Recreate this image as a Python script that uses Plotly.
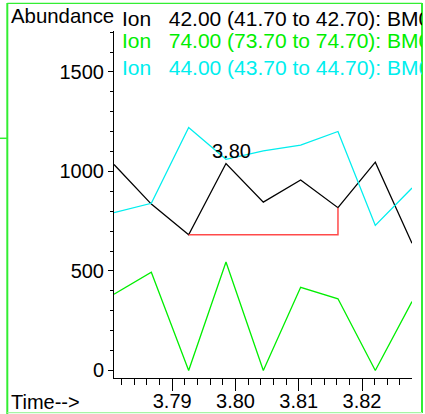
import plotly.graph_objects as go

# ---- data ----
times = [3.7808, 3.7867, 3.7926, 3.7985, 3.8044, 3.8103, 3.8162, 3.8221, 3.8279]
ion42 = [1035, 836, 682, 1040, 846, 957, 818, 1047, 639]
ion74 = [383, 494, 0, 545, 0, 418, 360, 0, 346]
ion44 = [793, 840, 1221, 1061, 1104, 1132, 1201, 729, 917]

baseline_t = [3.7926, 3.8162, 3.8162]
baseline_v = [682, 682, 818]

peak_time = 3.7985
peak_label = "3.80"

x_ticks = [3.79, 3.80, 3.81, 3.82]
y_ticks = [0, 500, 1000, 1500]

legend_lines = [
    ("Ion\u00a0\u00a0\u00a042.00 (41.70 to 42.70): BM01.D\\data.ms", "#000000"),
    ("Ion\u00a0\u00a0\u00a074.00 (73.70 to 74.70): BM01.D\\data.ms", "#00ee00"),
    ("Ion\u00a0\u00a0\u00a044.00 (43.70 to 44.70): BM01.D\\data.ms", "#00eeee"),
]

# ---- layout geometry ----
W, H = 425, 414
L, R, T, B = 114, 412, 31, 378
FONT = "Liberation Sans, Arial, Helvetica, sans-serif"


def px(x):
    return (x - L) / (R - L)


def py(y):
    return (B - y) / (B - T)


fig = go.Figure()
fig.add_trace(go.Scatter(x=times, y=ion42, mode="lines",
                         line=dict(color="#000000", width=1.3)))
fig.add_trace(go.Scatter(x=times, y=ion74, mode="lines",
                         line=dict(color="#00ee00", width=1.3)))
fig.add_trace(go.Scatter(x=times, y=ion44, mode="lines",
                         line=dict(color="#00eeee", width=1.3)))
fig.add_trace(go.Scatter(x=baseline_t, y=baseline_v, mode="lines",
                         line=dict(color="#ff4a4a", width=1.5)))

annotations = [
    dict(text="Abundance", x=px(9), y=py(16), xref="paper", yref="paper",
         xanchor="left", yanchor="middle", showarrow=False,
         font=dict(size=20.4, color="#000000", family=FONT)),
    dict(text="Time-->", x=px(9), y=py(401.5), xref="paper", yref="paper",
         xanchor="left", yanchor="middle", showarrow=False,
         font=dict(size=20, color="#000000", family=FONT)),
    dict(text=peak_label, x=peak_time, y=1102, xref="x", yref="y",
         xshift=6, xanchor="center", yanchor="middle", showarrow=False,
         font=dict(size=20, color="#000000", family=FONT)),
]
for (txt, col), yc in zip(legend_lines, [18.5, 40.8, 67.0]):
    annotations.append(dict(
        text=txt, x=px(120.7), y=py(yc), xref="paper", yref="paper",
        xanchor="left", yanchor="middle", showarrow=False, align="left",
        width=300, borderpad=0,
        font=dict(size=21, color=col, family=FONT)))

shapes = [
    # green frame
    dict(type="line", xref="paper", yref="paper", x0=px(7.3), x1=px(7.3),
         y0=py(3), y1=py(414), line=dict(color="#33ee33", width=2)),
    dict(type="line", xref="paper", yref="paper", x0=px(7.3), x1=px(422),
         y0=py(3.3), y1=py(3.3), line=dict(color="#33ee33", width=1.2)),
    dict(type="line", xref="paper", yref="paper", x0=px(422), x1=px(422),
         y0=py(3), y1=py(413), line=dict(color="#33ee33", width=2)),
    dict(type="line", xref="paper", yref="paper", x0=px(7.3), x1=px(422),
         y0=py(412.7), y1=py(412.7), line=dict(color="#a6f5a6", width=1.2)),
    dict(type="line", xref="paper", yref="paper", x0=px(0), x1=px(7.3),
         y0=py(138.3), y1=py(138.3), line=dict(color="#33ee33", width=1.5)),
]

fig.update_layout(
    width=W, height=H,
    margin=dict(l=L, r=W - R, t=T, b=H - B, pad=0, autoexpand=False),
    paper_bgcolor="white", plot_bgcolor="white",
    showlegend=False,
    annotations=annotations,
    shapes=shapes,
    font=dict(family=FONT, size=20, color="#000000"),
    xaxis=dict(
        range=[3.7808, 3.8279], tickvals=x_ticks, tickformat=".2f",
        automargin=False, ticklabelstandoff=-7,
        showline=True, linecolor="#000000", linewidth=1,
        ticks="outside", ticklen=12, tickcolor="#000000", tickwidth=1,
        showgrid=False, zeroline=False,
        tickfont=dict(size=20, family=FONT, color="#000000"),
        minor=dict(dtick=0.002, tick0=3.79, ticks="outside", ticklen=6,
                   tickcolor="#000000", tickwidth=1, showgrid=False),
    ),
    yaxis=dict(
        range=[-38, 1706], tickvals=y_ticks,
        automargin=False,
        showline=True, linecolor="#000000", linewidth=1,
        ticks="outside", ticklen=5, tickcolor="#000000", tickwidth=1,
        showgrid=False, zeroline=False,
        tickfont=dict(size=20, family=FONT, color="#000000"),
        minor=dict(dtick=100, tick0=0, ticks="outside", ticklen=3,
                   tickcolor="#000000", tickwidth=1, showgrid=False),
    ),
)

fig.write_html(
    "out.html",
    config={"displayModeBar": False},
    post_script="document.body.style.margin='0';document.body.style.overflow='hidden';",
)
